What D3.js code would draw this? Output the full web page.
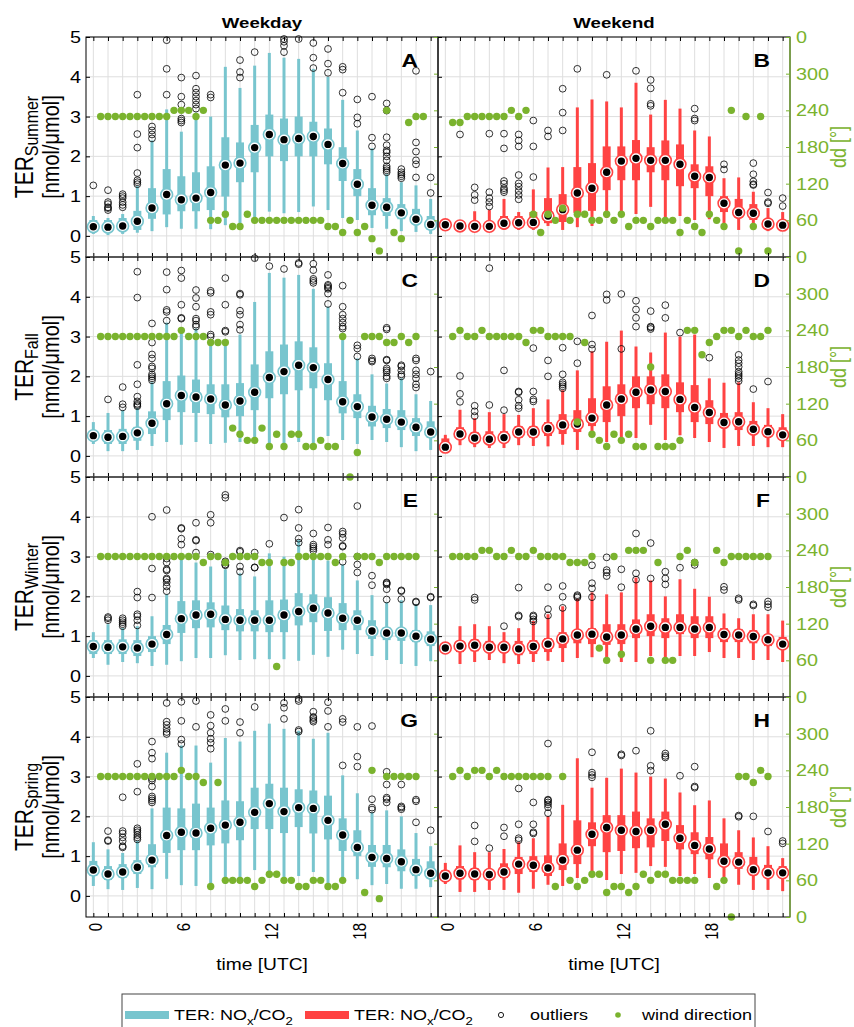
<!DOCTYPE html>
<html>
<head>
<meta charset="utf-8">
<script src="https://cdn.jsdelivr.net/npm/d3@7"></script>
<style>
  body { margin: 0; background: #fff; }
  text { font-family: "Liberation Sans", Arial, sans-serif; }
</style>
</head>
<body>
<svg id="fig" width="854" height="1027"></svg>
<script>
// ---- dados (TER em nmol/umol, dd em graus) ----
const hours = d3.range(24);
const windTimes = d3.range(45).map(k => 0.5 + 0.5 * k);
const hourLabels = [0, 6, 12, 18];
const terTicks = [0, 1, 2, 3, 4, 5];
const ddTicks = [0, 60, 120, 180, 240, 300];
const seasons = ["Summer", "Fall", "Winter", "Spring"];
const colTitles = ["Weekday", "Weekend"];
const panelLetters = ["A", "B", "C", "D", "E", "F", "G", "H"];

// A: summer weekday
const medA = [0.23,0.22,0.25,0.37,0.70,1.04,0.91,0.95,1.09,1.78,1.83,2.22,2.55,2.42,2.45,2.50,2.30,1.82,1.30,0.77,0.72,0.58,0.42,0.29];
const q1A  = [0.12,0.10,0.12,0.15,0.43,0.54,0.62,0.62,0.65,0.99,1.35,1.60,2.00,1.88,2.00,2.00,1.80,1.38,1.00,0.52,0.50,0.42,0.30,0.15];
const q3A  = [0.40,0.40,0.45,0.63,1.20,1.68,1.50,1.60,1.75,2.48,2.35,2.79,3.05,2.95,3.00,2.87,2.70,2.23,1.68,1.20,0.95,0.80,0.68,0.50];
const loA  = [0.05,0.02,0.05,0.08,0.12,0.22,0.18,0.18,0.17,0.27,0.20,0.44,0.61,0.57,0.60,0.74,0.65,0.45,0.40,0.20,0.18,0.12,0.10,0.05];
const hiA  = [0.50,0.45,0.55,1.25,2.40,3.18,2.62,3.10,3.00,4.25,3.72,4.28,4.60,4.48,4.45,4.20,4.00,3.42,2.65,2.20,1.55,1.35,1.27,0.93];
const outA = [[1.27],[0.65,0.70,0.72,0.80,0.85,1.15],[0.72,0.78,0.85,0.95,1.00,1.05],[1.30,1.35,1.40,1.58,2.22,2.56,3.55],[2.45,2.55,2.65,2.75],[3.55,4.20,4.92],[2.85,2.90,2.95,3.30,3.50,3.98],[3.20,3.30,3.40,3.50,3.60,3.70,4.03],[3.48,3.55],[],[3.98,4.12,4.42],[4.62],[],[4.62,4.78,4.88,4.95],[4.95],[4.22,4.48,4.85],[4.10,4.33,4.70],[3.60,4.18,4.25],[2.82,2.98,3.43],[2.25,2.47,3.50],[1.60,1.65,1.70,1.75,1.90,2.00,2.10,2.15,2.28,2.48,3.15,3.33],[1.45,1.50,1.55,1.60,1.68],[1.47,1.80,1.90,2.12,2.35,4.15],[1.08,1.47]];
const ddA  = [230,230,230,230,230,230,230,230,230,230,240,240,240,230,240,60,60,70,50,50,70,60,60,60,60,60,60,60,60,60,60,50,50,40,60,40,50,30,10,240,40,30,220,230,230];

// B: summer weekend
const medB = [0.28,0.25,0.24,0.24,0.32,0.33,0.34,0.50,0.66,1.08,1.20,1.60,1.88,1.95,1.90,1.90,1.80,1.50,1.47,0.82,0.59,0.57,0.30,0.27];
const q1B  = [0.20,0.18,0.17,0.15,0.22,0.22,0.22,0.32,0.35,0.58,0.63,1.15,1.40,1.40,1.60,1.40,1.25,1.20,1.00,0.60,0.45,0.40,0.20,0.20];
const q3B  = [0.35,0.32,0.33,0.35,0.50,0.50,0.60,0.95,1.05,1.73,1.83,2.25,2.25,2.41,2.23,2.40,2.30,1.80,1.75,1.00,0.93,0.80,0.40,0.38];
const loB  = [0.15,0.12,0.10,0.10,0.15,0.15,0.15,0.25,0.15,0.22,0.25,0.45,0.48,0.55,0.73,0.45,0.50,0.40,0.42,0.30,0.15,0.25,0.12,0.15];
const hiB  = [0.40,0.38,0.62,0.65,0.93,0.60,1.17,1.72,1.73,3.23,3.43,3.38,3.23,3.85,3.05,3.42,3.20,2.65,2.50,1.45,1.47,1.11,0.70,0.60];
const outB = [[],[2.55],[0.90,1.03,1.22],[0.74,0.85,0.95,1.10,2.57],[1.10,1.15,1.20,1.31,1.38,2.20,2.57],[0.92,1.03,1.13,1.24,1.32,1.53,2.25,2.40,2.55],[1.48,2.25,2.90],[2.50,2.65],[2.65,3.10,3.70],[4.20],[],[4.05],[],[4.15],[3.27,3.32,3.71,3.92],[],[],[2.90,2.95,3.20],[],[1.67,1.80],[],[1.28,1.30,1.37,1.55,1.83],[0.82,0.85,1.09],[0.75,0.95]];
const ddB  = [220,220,230,230,230,230,230,230,240,230,240,70,40,70,60,80,60,70,70,60,60,70,60,70,50,60,60,50,60,60,60,40,60,50,40,70,60,50,240,10,230,50,230,10,null];

// C: fall weekday
const medC = [0.51,0.47,0.49,0.58,0.82,1.31,1.52,1.48,1.43,1.28,1.38,1.60,1.97,2.12,2.28,2.22,1.92,1.36,1.24,0.98,0.92,0.85,0.72,0.60];
const q1C  = [0.42,0.30,0.30,0.38,0.55,0.90,1.10,1.08,1.05,0.97,1.00,1.15,1.45,1.55,1.65,1.70,1.40,1.07,0.95,0.74,0.70,0.65,0.50,0.45];
const q3C  = [0.62,0.65,0.68,0.73,1.12,1.88,2.02,1.92,1.80,1.80,1.83,2.30,2.63,2.80,2.88,2.73,2.33,1.88,1.55,1.26,1.18,1.15,0.95,0.87];
const loC  = [0.30,0.12,0.12,0.15,0.25,0.35,0.28,0.35,0.30,0.33,0.35,0.45,0.25,0.30,0.35,0.30,0.50,0.40,0.30,0.40,0.35,0.22,0.12,0.15];
const hiC  = [0.85,1.08,1.15,1.20,1.85,3.35,3.12,3.20,2.85,2.85,3.05,3.87,4.60,4.48,4.55,4.20,3.75,3.00,2.45,2.05,1.82,1.95,1.55,1.38];
const outC = [[],[1.42],[1.22,1.30,1.73],[1.25,1.28,1.31,1.37,1.49,1.80,2.29,3.98,4.63],[1.90,1.95,2.00,2.05,2.20,2.25,2.45,2.55,2.85,3.33],[3.40,3.62,3.67,4.18,4.62],[3.45,3.47,3.80,4.47,4.66],[3.25,3.30,3.40,3.45,3.75,3.97,4.17],[3.00,3.05,3.55,3.62,4.10,4.15],[3.12,3.15,3.80,4.47],[3.17,3.30,3.55,3.65,4.05,4.08],[4.97],[4.77],[4.70],[4.82,4.85],[4.35,4.40,4.45,4.67,4.83],[3.82,4.08,4.20,4.23,4.27,4.30,4.55],[3.20,3.25,3.35,3.45,3.55,3.75,4.28],[2.50,2.70,2.78],[2.37,2.40,2.45],[1.95,2.00,2.10,2.15,2.20,2.40,2.42,3.18,3.22],[2.00,2.05,2.15,2.25,2.28],[1.72,1.80,1.95,2.05,2.15,2.40,2.45],[2.12]];
const ddC  = [230,230,230,230,230,230,230,230,230,230,230,240,230,230,230,220,220,220,80,70,60,60,80,50,70,50,70,70,50,50,60,50,50,230,0,40,230,230,230,220,220,230,220,230,null];

// D: fall weekend
const medD = [0.22,0.55,0.45,0.42,0.46,0.60,0.60,0.69,0.78,0.80,0.95,1.28,1.43,1.60,1.66,1.62,1.42,1.22,1.09,0.84,0.86,0.67,0.61,0.53];
const q1D  = [0.15,0.42,0.35,0.30,0.33,0.45,0.45,0.50,0.55,0.60,0.75,0.85,1.00,1.20,1.30,1.20,1.10,0.85,0.80,0.70,0.65,0.55,0.48,0.45];
const q3D  = [0.44,0.72,0.60,0.62,0.62,0.75,0.75,0.85,1.05,1.15,1.45,1.75,1.80,2.00,2.00,2.05,1.85,1.78,1.40,1.08,1.10,0.88,0.78,0.72];
const loD  = [0.15,0.27,0.22,0.20,0.20,0.27,0.25,0.24,0.28,0.15,0.50,0.35,0.45,0.45,0.78,0.40,0.52,0.45,0.35,0.20,0.25,0.25,0.22,0.22];
const hiD  = [0.53,1.16,0.95,1.10,1.05,1.03,1.20,1.42,1.65,2.15,2.63,2.87,3.15,2.75,2.60,3.10,3.00,3.05,1.95,1.84,1.85,1.35,1.20,1.05];
const outD = [[],[1.36,1.56,2.01],[1.00,1.12,1.26],[1.28,4.72],[1.15,2.15],[1.20,1.26,1.41,1.60,1.62],[1.37,1.42,1.62,2.71],[2.00,2.40],[1.70,1.75,1.80,1.85,2.05,2.72],[2.33,2.88],[2.69,2.80,3.53],[3.92,4.06],[2.69,4.07],[3.25,3.47,3.68,3.90],[3.19,3.23,3.25,3.64],[3.47,3.79],[3.10],[],[2.47],[],[1.88,1.95,2.01,2.06,2.12,2.24,2.33,2.41,2.54],[1.68],[1.87],[]];
const ddD  = [230,240,230,230,240,230,230,230,230,230,220,240,240,230,230,230,230,90,220,70,60,50,70,60,70,50,50,180,50,50,50,60,240,240,200,220,230,240,240,230,240,230,230,240,null];

// E: winter weekday
const medE = [0.74,0.72,0.73,0.70,0.80,1.04,1.44,1.53,1.55,1.42,1.40,1.40,1.40,1.53,1.62,1.70,1.58,1.45,1.40,1.13,1.08,1.08,1.00,0.92];
const q1E  = [0.55,0.55,0.55,0.50,0.60,0.80,1.08,1.20,1.22,1.15,1.12,1.12,1.10,1.10,1.27,1.35,1.13,1.15,1.15,0.93,0.90,0.88,0.85,0.75];
const q3E  = [0.90,0.90,0.92,0.90,1.00,1.28,1.88,1.90,1.85,1.77,1.68,1.65,1.90,1.92,2.08,2.05,1.98,1.83,1.65,1.40,1.22,1.20,1.15,1.12];
const loE  = [0.45,0.28,0.35,0.32,0.25,0.28,0.37,0.45,0.45,0.52,0.40,0.42,0.42,0.42,0.38,0.53,0.48,0.66,0.55,0.50,0.40,0.30,0.25,0.37];
const hiE  = [1.10,1.30,1.20,1.25,1.50,2.05,3.00,2.85,2.75,2.68,2.58,2.50,3.08,3.00,3.42,3.00,2.90,2.80,2.40,2.03,1.85,1.90,1.80,1.78];
const outE = [[],[1.40,1.45,1.48],[1.25,1.30,1.35,1.40,1.45],[1.27,1.40,1.50,1.55,1.97,2.12],[1.97,2.70,4.00],[2.13,2.25,2.35,2.42,2.45,2.65,2.68,2.85,2.95,4.17],[3.30,3.45,3.70,3.72],[3.10,3.40,3.42,3.85],[3.05,3.85,4.05],[2.78,2.80,2.85,2.88,4.48,4.55],[2.62,2.75,3.12,3.15],[2.72,2.73,3.10],[3.32],[3.98],[3.35,3.45,3.72,4.18],[3.15,3.20,3.25,3.30,3.58],[3.30,3.42,3.73],[2.87,3.25,3.27,3.47,3.57,3.63],[2.60,2.80,3.00,4.27],[2.28,2.52],[1.92,2.18,2.30,2.33,2.35],[1.93,2.13,2.15],[1.85,1.87],[1.97,1.99]];
const ddE  = [230,230,230,230,230,230,230,230,230,230,230,230,230,230,220,230,230,220,230,230,230,230,220,220,50,220,220,230,230,230,230,230,220,230,null,230,230,230,220,230,230,230,230,230,null];

// F: winter weekend
const medF = [0.70,0.75,0.77,0.72,0.72,0.68,0.74,0.80,0.93,1.03,1.05,0.98,1.03,1.18,1.25,1.22,1.22,1.18,1.22,1.04,1.03,0.99,0.91,0.80];
const q1F  = [0.65,0.60,0.62,0.60,0.58,0.52,0.55,0.60,0.70,0.82,0.80,0.78,0.80,0.95,1.00,0.95,1.05,0.95,0.95,0.85,0.85,0.82,0.75,0.70];
const q3F  = [0.78,0.88,0.92,0.88,0.85,0.88,0.90,0.95,1.10,1.15,1.20,1.30,1.30,1.42,1.55,1.45,1.55,1.50,1.50,1.20,1.18,1.15,1.05,0.98];
const loF  = [0.60,0.30,0.35,0.40,0.32,0.30,0.35,0.38,0.35,0.45,0.47,0.35,0.35,0.35,0.50,0.40,0.50,0.50,0.60,0.45,0.45,0.40,0.40,0.35];
const hiF  = [0.82,1.25,1.30,1.25,1.10,1.20,1.38,1.55,1.75,1.94,2.10,2.05,2.10,2.47,2.40,2.00,2.43,2.19,1.99,1.57,1.45,1.55,1.55,1.39];
const outF = [[],[],[1.91,1.97],[],[1.25],[1.49,1.52,2.22],[1.37,1.42,1.49,1.52],[1.52,1.68,2.23],[1.71,1.99,2.26],[1.97,2.00,2.03],[1.98,2.20,2.33,2.78],[2.51,2.60,2.66,2.98],[2.23,2.68],[2.42,2.58,3.58],[2.45,3.34],[2.30,2.45,2.62],[2.72],[2.79,2.85],[],[2.16,2.24],[1.91,1.95],[1.77,1.80],[1.73,1.80,1.87],[]];
const ddF  = [230,230,230,230,240,240,230,230,240,230,230,240,230,230,230,230,220,220,220,230,80,60,230,70,240,240,240,60,220,60,60,230,240,220,null,null,240,220,230,230,230,230,230,230,null];

// G: spring weekday
const medG = [0.65,0.55,0.60,0.72,0.90,1.52,1.60,1.58,1.70,1.78,1.85,2.10,2.32,2.12,2.22,2.20,1.90,1.53,1.22,0.97,0.94,0.86,0.66,0.57];
const q1G  = [0.50,0.40,0.45,0.55,0.72,1.08,1.15,1.15,1.27,1.32,1.40,1.68,1.68,1.58,1.73,1.57,1.42,1.13,1.00,0.73,0.72,0.62,0.50,0.43];
const q3G  = [0.88,0.75,0.80,0.90,1.30,2.22,2.20,2.32,2.22,2.40,2.38,2.72,2.82,2.72,2.68,2.65,2.52,1.95,1.65,1.28,1.28,1.17,0.93,0.87];
const loG  = [0.25,0.17,0.15,0.20,0.17,0.43,0.27,0.25,0.28,0.30,0.35,0.65,0.45,0.35,0.50,0.60,0.28,0.35,0.42,0.27,0.30,0.18,0.18,0.22];
const hiG  = [1.35,1.17,1.08,1.38,2.20,3.60,3.78,3.78,3.35,3.97,3.88,4.15,4.33,4.20,4.15,3.95,4.10,3.03,2.58,2.10,2.15,2.00,1.58,1.25];
const outG = [[],[1.38,1.40,1.63],[1.22,1.25,1.38,1.47,1.57,1.63,2.48],[1.42,1.47,1.53,1.60,1.65,1.70,2.62,3.32],[2.35,2.40,2.45,2.50,2.75,2.90,2.95,3.45,3.60,3.88],[4.07,4.12,4.20,4.30,4.38,4.85],[3.82,3.93,4.40,4.88],[4.25,4.90],[3.70,3.85,3.95,4.10,4.28,4.55],[4.40,4.70],[4.10,4.37],[4.75],[],[4.45,4.73,4.85],[4.13,4.17,4.90,4.95],[4.38,4.42,4.47,4.50,4.63],[4.25,4.65,4.87],[3.28,4.37,4.45],[3.25,3.50,4.25],[2.17,2.22,2.43,4.27],[2.35,2.43,2.47,2.80,3.12],[2.18,2.22,2.25,2.80],[1.85,2.38,2.42],[1.65]];
const ddG  = [230,230,230,230,230,230,230,230,230,230,230,240,230,230,220,50,220,60,60,60,60,50,60,70,70,60,60,50,50,60,60,50,50,60,null,null,40,240,30,230,230,230,230,230,null];

// H: spring weekend
const medH = [0.50,0.57,0.55,0.54,0.60,0.80,0.77,0.70,0.90,1.15,1.55,1.72,1.65,1.62,1.65,1.80,1.45,1.27,1.18,0.87,0.85,0.66,0.58,0.58];
const q1H  = [0.40,0.42,0.40,0.42,0.45,0.55,0.60,0.50,0.65,0.80,1.25,1.10,1.13,1.20,1.22,1.38,1.17,1.05,0.92,0.75,0.68,0.52,0.45,0.45];
const q3H  = [0.65,0.75,0.70,0.65,0.82,0.98,1.00,1.02,1.32,1.90,1.85,2.03,2.03,2.12,1.95,2.12,1.78,1.60,1.48,1.32,1.10,0.98,0.78,0.75];
const loH  = [0.30,0.10,0.10,0.15,0.15,0.08,0.18,0.28,0.25,0.45,0.60,0.40,0.55,0.58,0.75,0.73,0.50,0.55,0.45,0.35,0.28,0.15,0.15,0.12];
const hiH  = [0.83,1.27,1.10,1.10,1.18,1.35,1.45,2.00,2.29,3.46,2.72,2.97,3.20,3.10,3.00,2.95,2.60,2.28,2.40,1.95,1.65,1.47,1.25,0.95];
const outH = [[],[],[1.37,1.77],[1.20],[1.50,1.72],[1.40,1.45,1.80,2.70],[1.57,1.60,1.80,2.35],[2.08,2.23,2.30,2.35,2.40,2.42,3.83],[],[],[2.98,3.04,3.10,3.61],[],[3.53,3.56],[3.65],[3.15,3.27,4.15],[3.48,3.52,3.58],[3.02],[2.72,2.75,3.25],[],[],[1.99,2.02],[2.00],[1.62],[1.32,1.38]];
const ddH  = [230,240,230,240,240,230,240,230,230,230,230,230,230,230,50,230,60,50,60,70,70,40,50,50,40,50,70,60,70,70,60,60,60,60,null,null,50,60,0,230,230,220,240,230,null];

// ---- layout ----
const svg = d3.select("#fig");
const LEFT = 86, MID = 438, RIGHT = 790, TOP = 37, ROWH = 220;
const cyan = "#78c5ce", red = "#ff4343", green = "#7ab32e", gridC = "#dedede";
const SX = 1.2; // o texto da figura original e' mais largo que alto

const panels = [
  [medA,q1A,q3A,loA,hiA,outA,ddA], [medB,q1B,q3B,loB,hiB,outB,ddB],
  [medC,q1C,q3C,loC,hiC,outC,ddC], [medD,q1D,q3D,loD,hiD,outD,ddD],
  [medE,q1E,q3E,loE,hiE,outE,ddE], [medF,q1F,q3F,loF,hiF,outF,ddF],
  [medG,q1G,q3G,loG,hiG,outG,ddG], [medH,q1H,q3H,loH,hiH,outH,ddH]
].map((d, i) => ({ med:d[0], q1:d[1], q3:d[2], lo:d[3], hi:d[4], out:d[5], dd:d[6],
                   row: Math.floor(i / 2), col: i % 2, letter: panelLetters[i] }));

function txt(g, x, y, s, o = {}) {
  const t = g.append("text")
    .attr("transform", `translate(${x},${y}) scale(${SX},1)` + (o.rot ? ` rotate(${o.rot})` : ""))
    .attr("font-size", o.size || 16)
    .attr("text-anchor", o.anchor || "start")
    .attr("fill", o.fill || "#000");
  if (o.bold) t.attr("font-weight", "bold");
  if (o.dy) t.attr("dy", o.dy);
  if (s !== null) t.text(s);
  return t;
}

panels.forEach(p => {
  const x0 = p.col ? MID : LEFT, x1 = p.col ? RIGHT : MID;
  const y0 = TOP + p.row * ROWH, y1 = y0 + ROWH;
  const col = p.col ? red : cyan;
  const x = d3.scaleLinear().domain([-0.5, 23.5]).range([x0, x1]);
  const yT = d3.scaleLinear().domain([-0.53, 5]).range([y1, y0]);
  const yD = d3.scaleLinear().domain([0, 360]).range([y1, y0]);
  const g = svg.append("g");

  // grade
  g.selectAll(".vg").data(hours).join("line")
    .attr("x1", h => x(h)).attr("x2", h => x(h)).attr("y1", y0).attr("y2", y1)
    .attr("stroke", gridC).attr("stroke-width", 1);
  g.selectAll(".hg").data(terTicks).join("line")
    .attr("x1", x0).attr("x2", x1).attr("y1", v => yT(v)).attr("y2", v => yT(v))
    .attr("stroke", gridC).attr("stroke-width", 1);

  // bigodes e caixas
  g.selectAll(".wh").data(hours).join("line")
    .attr("x1", h => x(h)).attr("x2", h => x(h))
    .attr("y1", h => yT(p.lo[h])).attr("y2", h => yT(p.hi[h]))
    .attr("stroke", col).attr("stroke-width", 3);
  g.selectAll(".bx").data(hours).join("rect")
    .attr("x", h => x(h) - 4).attr("width", 8)
    .attr("y", h => yT(p.q3[h])).attr("height", h => yT(p.q1[h]) - yT(p.q3[h]))
    .attr("fill", col);

  // outliers
  const outs = hours.flatMap(h => p.out[h].map(v => ({ h, v })));
  g.selectAll(".ol").data(outs).join("circle")
    .attr("cx", d => x(d.h)).attr("cy", d => yT(d.v)).attr("r", 3.4)
    .attr("fill", "none").attr("stroke", "#000").attr("stroke-width", 0.8);

  // mediana
  g.selectAll(".mr").data(hours).join("circle")
    .attr("cx", h => x(h)).attr("cy", h => yT(p.med[h])).attr("r", 5.9)
    .attr("fill", "#fff").attr("stroke", col).attr("stroke-width", 1.6);
  g.selectAll(".md").data(hours).join("circle")
    .attr("cx", h => x(h)).attr("cy", h => yT(p.med[h])).attr("r", 3.7)
    .attr("fill", "#000");

  // direcao do vento (eixo da direita)
  const wind = windTimes.map((t, i) => ({ t, d: p.dd[i] })).filter(d => d.d !== null);
  g.selectAll(".wd").data(wind).join("circle")
    .attr("cx", d => x(d.t)).attr("cy", d => yD(d.d)).attr("r", 3.7)
    .attr("fill", green);

  // moldura e ticks
  g.append("rect").attr("x", x0).attr("y", y0).attr("width", x1 - x0).attr("height", ROWH)
    .attr("fill", "none").attr("stroke", "#000").attr("stroke-width", 1);
  const tickG = (axis, tx, ty, color) => {
    const a = g.append("g").attr("transform", `translate(${tx},${ty})`).call(axis);
    a.select(".domain").remove();
    a.selectAll("line").attr("stroke", color);
  };
  tickG(d3.axisTop(x).tickValues(hours).tickSize(-4).tickFormat(""), 0, y0, "#000");
  tickG(d3.axisBottom(x).tickValues(hours).tickSize(-4).tickFormat(""), 0, y1, "#000");
  tickG(d3.axisLeft(yT).tickValues(terTicks).tickSize(-4).tickFormat(""), x0, 0, "#000");
  tickG(d3.axisRight(yD).tickValues(ddTicks.concat([360])).tickSize(-4).tickFormat(""), x1, 0, green);

  // rotulos
  if (p.col === 0) {
    terTicks.forEach(v => txt(svg, LEFT - 5, yT(v), String(v), { anchor: "end", dy: "0.36em", size: 16.5 }));
    const cy = (y0 + y1) / 2;
    const t = txt(svg, 33, cy, null, { rot: -90, anchor: "middle", size: 21 });
    t.append("tspan").text("TER");
    t.append("tspan").attr("font-size", 16).attr("dy", 4).text(seasons[p.row]);
    txt(svg, 59, cy, "[nmol/\u03bcmol]", { rot: -90, anchor: "middle", size: 20 });
  } else {
    svg.append("line").attr("x1", RIGHT).attr("x2", RIGHT).attr("y1", y0).attr("y2", y1)
      .attr("stroke", green).attr("stroke-width", 1.2);
    ddTicks.forEach(v => txt(svg, RIGHT + 6, yD(v), String(v), { fill: green, dy: "0.36em", size: 16.5 }));
    if (p.row === 0) txt(svg, RIGHT + 6, yD(360), "0", { fill: green, dy: "0.36em", size: 16.5 });
    txt(svg, 846, (y0 + y1) / 2, "dd [\u00b0]", { rot: -90, anchor: "middle", size: 18, fill: green });
  }
  txt(svg, x1 - 20, y0 + 30, p.letter, { anchor: "end", size: 19, bold: true });
  if (p.row === 0) txt(svg, (x0 + x1) / 2, 28, colTitles[p.col], { anchor: "middle", size: 15.5, bold: true });
  if (p.row === 3) {
    hourLabels.forEach(h => txt(svg, x(h) + 2, y1 + 6, String(h), { rot: -90, anchor: "end", dy: "0.36em", size: 15 }));
    txt(svg, (x0 + x1) / 2, 970, "time [UTC]", { anchor: "middle", size: 16 });
  }
});

// ---- legenda ----
const lg = svg.append("g");
lg.append("rect").attr("x", 122).attr("y", 994).attr("width", 633).attr("height", 45)
  .attr("fill", "#fff").attr("stroke", "#444").attr("stroke-width", 1);
const legendSeries = [{ x: 125, c: cyan }, { x: 305, c: red }];
legendSeries.forEach(s => {
  lg.append("rect").attr("x", s.x).attr("y", 1011).attr("width", 44).attr("height", 8).attr("fill", s.c);
  const t = txt(lg, s.x + 49, 1020, null, { size: 15 });
  t.append("tspan").text("TER: NO");
  t.append("tspan").attr("font-size", 11).attr("dy", 5).text("x");
  t.append("tspan").attr("dy", -5).text("/CO");
  t.append("tspan").attr("font-size", 11).attr("dy", 5).text("2");
});
lg.append("circle").attr("cx", 501).attr("cy", 1015).attr("r", 2.6)
  .attr("fill", "none").attr("stroke", "#000").attr("stroke-width", 0.9);
txt(lg, 530, 1020, "outliers", { size: 15 });
lg.append("circle").attr("cx", 618).attr("cy", 1015).attr("r", 2.8).attr("fill", green);
txt(lg, 642, 1020, "wind direction", { size: 15 });
</script>
</body>
</html>
